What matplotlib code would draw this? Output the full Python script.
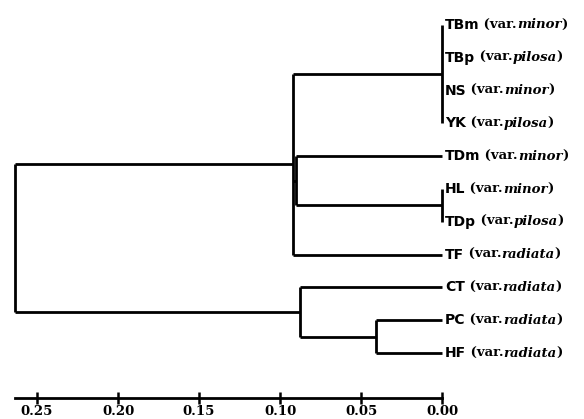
import matplotlib
matplotlib.use("Agg")
import matplotlib.pyplot as plt

# leaves, top to bottom
leaf_codes = ['TBm', 'TBp', 'NS', 'YK', 'TDm', 'HL', 'TDp', 'TF', 'CT', 'PC', 'HF']
leaf_vars = ['minor', 'pilosa', 'minor', 'pilosa', 'minor', 'minor', 'pilosa',
             'radiata', 'radiata', 'radiata', 'radiata']

# internal nodes (children, distance)
node_names = ['TB', 'HT', 'B', 'A', 'PH', 'C', 'root']
node_children = [['TBm', 'TBp', 'NS', 'YK'], ['HL', 'TDp'], ['TDm', 'HT'],
                 ['TB', 'B', 'TF'], ['PC', 'HF'], ['CT', 'PH'], ['A', 'C']]
node_heights = [0.0, 0.0, 0.090, 0.092, 0.041, 0.0877, 0.2636]

ticks = [0.25, 0.20, 0.15, 0.10, 0.05, 0.00]

fig = plt.figure(figsize=(5.84, 4.19), dpi=100)
ax = fig.add_axes([15 / 584, 21 / 419, 427 / 584, 388 / 419])

pos = {c: i for i, c in enumerate(leaf_codes)}
hgt = {c: 0.0 for c in leaf_codes}
lw = 2.0
for name, kids, h in zip(node_names, node_children, node_heights):
    ys = [pos[k] for k in kids]
    ax.plot([h, h], [min(ys), max(ys)], color='black', lw=lw,
            solid_capstyle='butt', clip_on=False)
    for k in kids:
        if hgt[k] != h:
            ax.plot([hgt[k], h], [pos[k], pos[k]], color='black', lw=lw,
                    solid_capstyle='butt', clip_on=False)
    pos[name] = (min(ys) + max(ys)) / 2
    hgt[name] = h

ax.set_xlim(0.2636, 0.0)
ax.set_ylim(11.37, -0.457)
ax.set_yticks([])
for s in ['left', 'top', 'right']:
    ax.spines[s].set_visible(False)
ax.spines['bottom'].set_linewidth(lw)
ax.set_xticks(ticks)
ax.set_xticklabels(['%.2f' % t for t in ticks], family='DejaVu Serif',
                   fontweight='bold', fontsize=9.5)
ax.tick_params(axis='x', direction='inout', length=8, width=1.8, pad=1)

# leaf labels: code + (var. name)
for i, (code, var) in enumerate(zip(leaf_codes, leaf_vars)):
    t = ax.annotate(code, xy=(0, i), xytext=(2, 0), textcoords='offset points',
                    ha='left', va='center', fontsize=10, fontweight='bold',
                    family='DejaVu Sans', annotation_clip=False)
    t2 = ax.annotate(' (var.', xy=(1, 0.5), xycoords=t, ha='left', va='center',
                     fontsize=9.5, fontweight='bold', family='DejaVu Serif')
    t3 = ax.annotate(var, xy=(1, 0.5), xycoords=t2, ha='left', va='center',
                     fontsize=9.5, fontweight='bold', style='italic',
                     family='DejaVu Serif')
    ax.annotate(')', xy=(1, 0.5), xycoords=t3, ha='left', va='center',
                fontsize=9.5, fontweight='bold', family='DejaVu Serif')

fig.savefig('out.png', dpi=100)
